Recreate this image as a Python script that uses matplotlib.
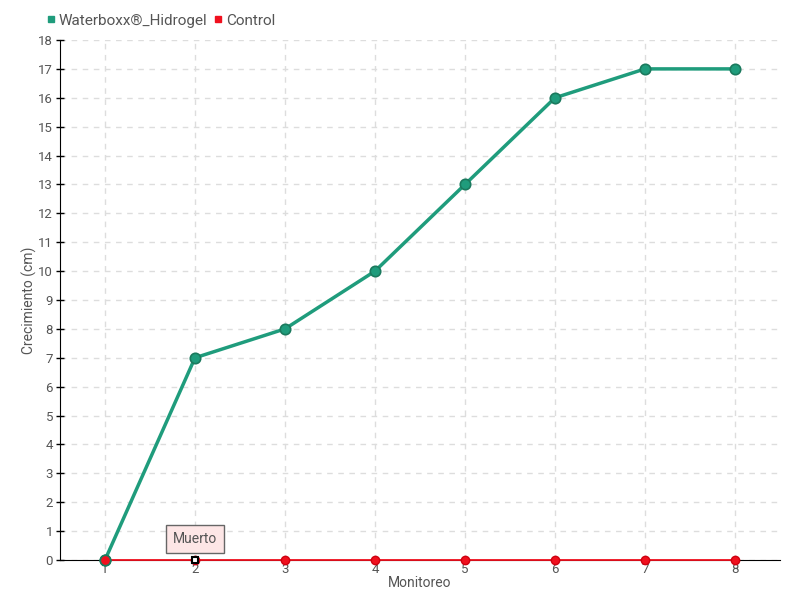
import matplotlib
matplotlib.use("Agg")
import matplotlib.pyplot as plt
from matplotlib.lines import Line2D
from matplotlib import font_manager

names = {f.name for f in font_manager.fontManager.ttflist}
fam = 'Roboto' if 'Roboto' in names else 'DejaVu Sans'
plt.rcParams['font.family'] = [fam, 'DejaVu Sans']
plt.rcParams['font.weight'] = 'normal'

monitoreo = [1, 2, 3, 4, 5, 6, 7, 8]
waterboxx = [0, 7, 8, 10, 13, 16, 17, 17]
control = [0, 0, 0, 0, 0, 0, 0, 0]
yticks = list(range(0, 19))

green = '#1f9c7c'
green_dark = '#1b7a5e'
red = '#f0101e'
txt = '#555555'

fig = plt.figure(figsize=(8, 6), dpi=100)
ax = fig.add_axes([60/800, 40/600, 720/800, 520/600])

ax.plot(monitoreo, control, color=red, lw=1.3, marker='o', ms=6,
        mfc=red, mec='#d00010', zorder=3, clip_on=False)
ax.plot(monitoreo, waterboxx, color=green, lw=2.5, marker='o', ms=7.5,
        mfc=green, mec=green_dark, mew=1.2, zorder=4, solid_capstyle='round',
        clip_on=False)
ax.plot([monitoreo[0]], [control[0]], 'o', ms=7.5, mfc=red, mec=green_dark,
        mew=1.2, zorder=5, clip_on=False)
ax.plot([monitoreo[1]], [control[1]], 's', ms=5, mfc='white', mec='black',
        mew=1.5, zorder=6, clip_on=False)
ax.annotate('Muerto', xy=(monitoreo[1], control[1]), xytext=(0, 15),
            textcoords='offset points', ha='center', va='center',
            fontsize=10, color=txt,
            bbox=dict(boxstyle='square,pad=0.5', fc='#fde6e6', ec='#666666', lw=1),
            zorder=7, annotation_clip=False)

ax.set_xlim(0.5, 8.5)
ax.set_ylim(0, 18)
ax.set_xticks(monitoreo)
ax.set_yticks(yticks)
ax.tick_params(axis='both', labelsize=9.5, labelcolor=txt, color='black',
               direction='inout', length=6, width=1)
ax.tick_params(axis='y', pad=2)
ax.tick_params(axis='x', length=0, pad=2)
ax.grid(True, color='#dddddd', ls=(0, (4, 4)), lw=1)
ax.set_axisbelow(True)
for s in ['top', 'right']:
    ax.spines[s].set_visible(False)
ax.spines['left'].set_color('black')
ax.spines['bottom'].set_color('black')
ax.spines['bottom'].set_zorder(2)

ax.set_xlabel('Monitoreo', fontsize=10, color=txt, labelpad=0)
ax.set_ylabel('Crecimiento (cm)', fontsize=10, color=txt)
ax.yaxis.set_label_coords(-23/720, 0.5)

handles = [Line2D([], [], ls='', marker='s', ms=4, color=green),
           Line2D([], [], ls='', marker='s', ms=4, color=red)]
fig.legend(handles, ['Waterboxx®_Hidrogel', 'Control'], loc='upper left',
           bbox_to_anchor=(33/800, 1 - 0/600), ncol=2, frameon=False,
           fontsize=11, labelcolor=txt, handlelength=0.6, handletextpad=0.2,
           columnspacing=0.4)

fig.savefig('out.png', dpi=100)
